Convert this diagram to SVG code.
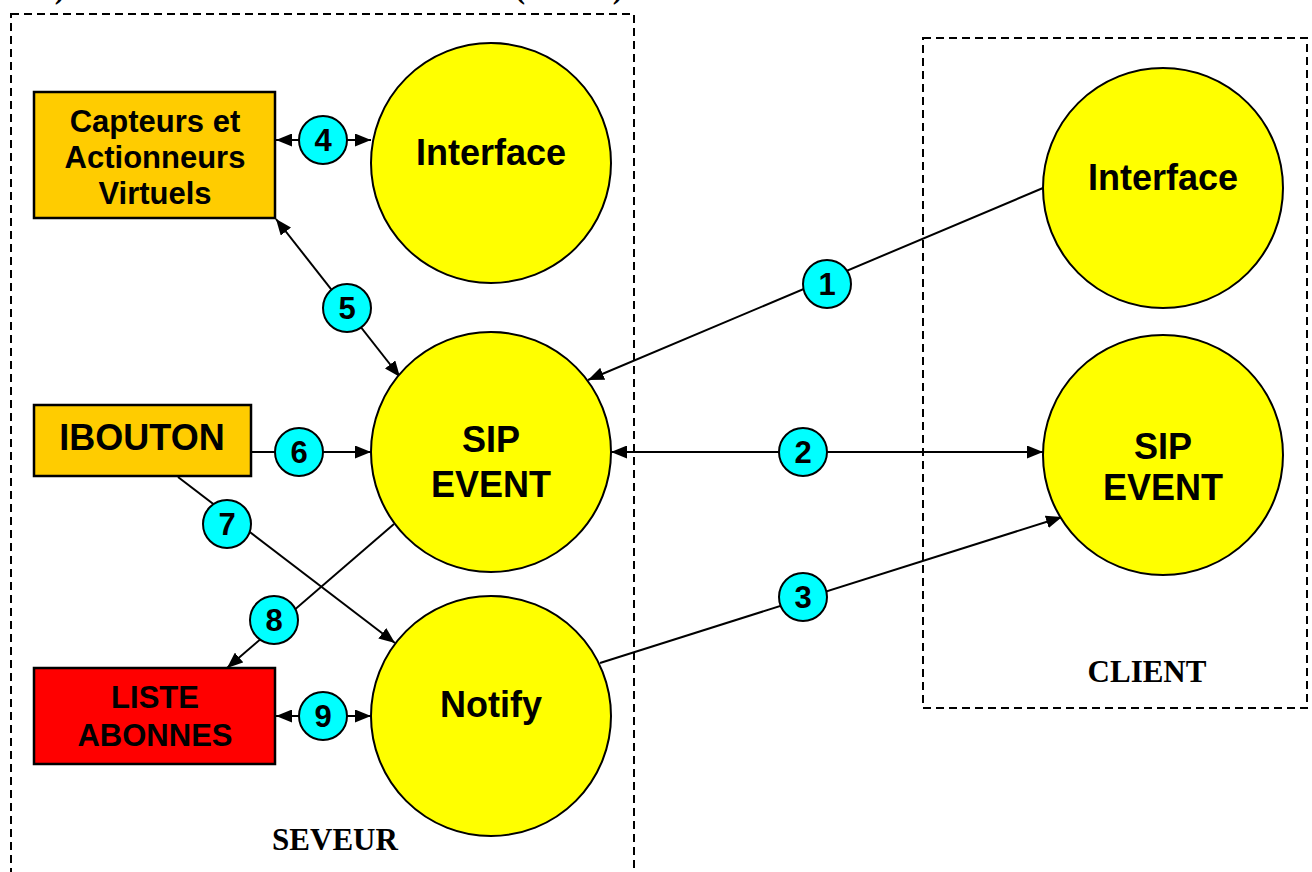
<svg xmlns="http://www.w3.org/2000/svg" width="1312" height="872" viewBox="0 0 1312 872">
  <style>
    .zone { fill: none; stroke: #000; stroke-width: 2; stroke-dasharray: 8 5; }
    .zone-label { font-family: "Liberation Serif", "Times New Roman", serif; font-weight: bold; font-size: 31px; fill: #000; text-anchor: middle; }
    .proc { fill: #ffff00; stroke: #000; stroke-width: 2; }
    .box-orange { fill: #ffcc00; stroke: #000; stroke-width: 2.5; }
    .box-red { fill: #ff0000; stroke: #000; stroke-width: 2.5; }
    .lbl { font-family: "Liberation Sans", Arial, sans-serif; font-weight: bold; fill: #000; text-anchor: middle; }
    .big { font-size: 36px; }
    .mid { font-size: 31px; }
    .link { fill: none; stroke: #000; stroke-width: 2; }
    .badge circle { fill: #00ffff; stroke: #000; stroke-width: 2; }
    .badge text { font-family: "Liberation Sans", Arial, sans-serif; font-weight: bold; font-size: 31px; fill: #000; text-anchor: middle; }
  </style>
  <defs>
    <marker id="arrow" viewBox="0 0 16 13" refX="16" refY="6.5" markerWidth="16" markerHeight="13" markerUnits="userSpaceOnUse" orient="auto-start-reverse">
      <path d="M0,0 L16,6.5 L0,13 z" fill="#000"/>
    </marker>
  </defs>

  <rect width="1312" height="872" fill="#fff"/>

  <!-- caption fragments running off the top edge -->
  <g class="zone-label">
    <text x="60" y="-2">)</text>
    <text x="520" y="-2">(</text>
    <text x="618" y="-2">)</text>
  </g>

  <!-- server and client zones -->
  <g id="zone-serveur">
    <rect class="zone" x="11" y="14" width="623" height="900"/>
    <text class="zone-label" x="335" y="850">SEVEUR</text>
  </g>
  <g id="zone-client">
    <rect class="zone" x="923" y="38" width="384" height="670"/>
    <text class="zone-label" x="1147" y="682">CLIENT</text>
  </g>

  <!-- connectors -->
  <g id="connectors">
    <line class="link" x1="276" y1="140" x2="371" y2="140" marker-start="url(#arrow)" marker-end="url(#arrow)"/>
    <line class="link" x1="276" y1="219" x2="400" y2="377" marker-start="url(#arrow)" marker-end="url(#arrow)"/>
    <line class="link" x1="251" y1="452" x2="371" y2="452" marker-end="url(#arrow)"/>
    <line class="link" x1="178" y1="477" x2="395" y2="643" marker-end="url(#arrow)"/>
    <line class="link" x1="394" y1="524" x2="227" y2="668" marker-end="url(#arrow)"/>
    <line class="link" x1="276" y1="716" x2="371" y2="716" marker-start="url(#arrow)" marker-end="url(#arrow)"/>
    <line class="link" x1="1043" y1="188" x2="588" y2="380" marker-end="url(#arrow)"/>
    <line class="link" x1="611" y1="452" x2="1043" y2="452" marker-start="url(#arrow)" marker-end="url(#arrow)"/>
    <line class="link" x1="600" y1="663" x2="1062" y2="517" marker-end="url(#arrow)"/>

    <g class="badge"><circle cx="827" cy="284" r="24"/><text x="827" y="295">1</text></g>
    <g class="badge"><circle cx="803" cy="452" r="24"/><text x="803" y="463">2</text></g>
    <g class="badge"><circle cx="803" cy="597" r="24"/><text x="803" y="608">3</text></g>
    <g class="badge"><circle cx="323" cy="140" r="24"/><text x="323" y="151">4</text></g>
    <g class="badge"><circle cx="347" cy="308" r="24"/><text x="347" y="319">5</text></g>
    <g class="badge"><circle cx="299" cy="452" r="24"/><text x="299" y="463">6</text></g>
    <g class="badge"><circle cx="227" cy="524" r="24"/><text x="227" y="535">7</text></g>
    <g class="badge"><circle cx="274" cy="620" r="24"/><text x="274" y="631">8</text></g>
    <g class="badge"><circle cx="323" cy="716" r="24"/><text x="323" y="727">9</text></g>
  </g>

  <!-- server side -->
  <g id="capteurs">
    <rect class="box-orange" x="34" y="92" width="241" height="126"/>
    <text class="lbl mid" x="155" y="132">Capteurs et</text>
    <text class="lbl mid" x="155" y="168">Actionneurs</text>
    <text class="lbl mid" x="155" y="204">Virtuels</text>
  </g>
  <g id="interface-serveur">
    <circle class="proc" cx="491" cy="163" r="120"/>
    <text class="lbl big" x="491" y="165">Interface</text>
  </g>
  <g id="ibouton">
    <rect class="box-orange" x="34" y="405" width="217" height="71"/>
    <text class="lbl big" x="142" y="450">IBOUTON</text>
  </g>
  <g id="sip-event-serveur">
    <circle class="proc" cx="491" cy="452" r="120"/>
    <text class="lbl big" x="491" y="452">SIP</text>
    <text class="lbl big" x="491" y="497">EVENT</text>
  </g>
  <g id="liste-abonnes">
    <rect class="box-red" x="34" y="668" width="241" height="96"/>
    <text class="lbl mid" x="155" y="708">LISTE</text>
    <text class="lbl mid" x="155" y="746">ABONNES</text>
  </g>
  <g id="notify">
    <circle class="proc" cx="491" cy="716" r="120"/>
    <text class="lbl big" x="491" y="717">Notify</text>
  </g>

  <!-- client side -->
  <g id="interface-client">
    <circle class="proc" cx="1163" cy="188" r="120"/>
    <text class="lbl big" x="1163" y="190">Interface</text>
  </g>
  <g id="sip-event-client">
    <circle class="proc" cx="1163" cy="455" r="120"/>
    <text class="lbl big" x="1163" y="459">SIP</text>
    <text class="lbl big" x="1163" y="500">EVENT</text>
  </g>
</svg>
